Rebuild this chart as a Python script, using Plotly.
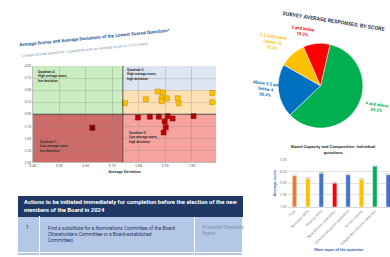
import plotly.graph_objects as go

# ---------------- data ----------------
# Scatter: lowest scored questions (average deviation vs average score)
yellow_dev = [0.748, 0.827, 0.872, 0.891, 0.887, 0.906, 0.887, 0.947, 0.951, 1.078, 1.078]
yellow_score = [3.23, 3.31, 3.47, 3.45, 3.33, 3.33, 3.27, 3.33, 3.23, 3.44, 3.25]
red_dev = [0.797, 0.842, 0.876, 0.909, 0.928, 1.007, 0.898, 0.902, 0.894]
red_score = [2.93, 2.95, 2.95, 2.96, 2.91, 2.96, 2.85, 2.73, 2.62]
q1_dev = [0.625]
q1_score = [2.72]
score_threshold = 3.0
band_top = 3.5
dev_threshold = 0.74
x_tick_vals = [0.40, 0.50, 0.60, 0.70, 0.80, 0.90, 1.00]
y_tick_vals = [2.00, 2.25, 2.50, 2.75, 3.00, 3.25, 3.50, 3.75, 4.00]

# Pie: survey average responses by score
pie_labels = ["4 and above", "Above 3.5 and below 4", "3.5 and below (above 3)", "3 and below"]
pie_label_lines = ["4 and above", "Above 3.5 and<br>below 4", "3.5 and below<br>(above 3)", "3 and below"]
pie_values = [59.2, 20.4, 10.2, 10.2]
pie_colors = ["#00b050", "#0070c0", "#ffc000", "#ff0000"]

# Bars: board capacity and composition
bar_categories = ["Total", "Business skills", "Finance skills", "New director orientation",
                  "Director education guidelines", "Annual training",
                  "Independent director selection", "Current board composition"]
bar_values = [3.63, 3.40, 3.83, 3.00, 3.71, 3.33, 4.43, 3.71]
bar_colors = ["#ed7d31", "#ffc000", "#4472c4", "#ff0000", "#4472c4", "#ffc000", "#00b050", "#4472c4"]
bar_label_colors = ["#ed7d31"] + ["#7f7f7f"] * 7

# Table
table_header = ("<b>Actions to be initiated immediately for completion before the election of the new<br>"
                "members of the Board in 2024</b>")
row_numbers = ["1", "2"]
row_actions = ["Find a substitute for a Nominations Committee of the Board<br>"
               "(Shareholders Committee or a Board-established<br>Committee)",
               "Develop a Comprehensive Director Orientation Program."]
row_owners = ["Promoter Shareholders;<br>Board", "Corporate Secretary"]

W, H = 390, 257
def px(x):
    return x / W
def py(y):
    return 1 - y / H

FONT = "Roboto, Liberation Sans, sans-serif"
NAVY = "#1f3864"

fig = go.Figure()

# ---------------- scatter quadrant chart ----------------
fig.add_trace(go.Scatter(x=yellow_dev, y=yellow_score, mode="markers",
                         marker=dict(symbol="square", size=5, color="#ffc000",
                                     line=dict(color="#b58900", width=0.5)),
                         xaxis="x", yaxis="y", showlegend=False))
fig.add_trace(go.Scatter(x=red_dev, y=red_score, mode="markers",
                         marker=dict(symbol="square", size=5, color="#c00000",
                                     line=dict(color="#800000", width=0.5)),
                         xaxis="x", yaxis="y", showlegend=False))
fig.add_trace(go.Scatter(x=q1_dev, y=q1_score, mode="markers",
                         marker=dict(symbol="square", size=5, color="#8b0000",
                                     line=dict(color="#500000", width=0.5)),
                         xaxis="x", yaxis="y", showlegend=False))

x_lo, x_hi = 0.40, 1.093
y_lo, y_hi = 2.0, 4.0
shapes = [
    dict(type="rect", xref="x", yref="y", x0=x_lo, x1=dev_threshold, y0=score_threshold, y1=y_hi,
         fillcolor="#c9ecc1", line=dict(width=0), layer="below"),
    dict(type="rect", xref="x", yref="y", x0=dev_threshold, x1=x_hi, y0=band_top, y1=y_hi,
         fillcolor="#dde5f2", line=dict(width=0), layer="below"),
    dict(type="rect", xref="x", yref="y", x0=dev_threshold, x1=x_hi, y0=score_threshold, y1=band_top,
         fillcolor="#fde0b4", line=dict(width=0), layer="below"),
    dict(type="rect", xref="x", yref="y", x0=x_lo, x1=dev_threshold, y0=y_lo, y1=score_threshold,
         fillcolor="#cd6b68", line=dict(width=0), layer="below"),
    dict(type="rect", xref="x", yref="y", x0=dev_threshold, x1=x_hi, y0=y_lo, y1=score_threshold,
         fillcolor="#f6a3a0", line=dict(width=0), layer="below"),
    dict(type="line", xref="x", yref="y", x0=dev_threshold, x1=dev_threshold, y0=y_lo, y1=y_hi,
         line=dict(color="#333333", width=0.8)),
    dict(type="line", xref="x", yref="y", x0=x_lo, x1=x_hi, y0=score_threshold, y1=score_threshold,
         line=dict(color="#333333", width=0.8)),
]

# ---------------- pie ----------------
fig.add_trace(go.Pie(labels=pie_labels, values=pie_values,
                     marker=dict(colors=pie_colors, line=dict(color="white", width=0.5)),
                     sort=False, direction="clockwise", rotation=13,
                     textposition="none",
                     domain=dict(x=[px(277), px(363)], y=[py(128), py(42)]),
                     showlegend=False, hoverinfo="label+percent"))

# ---------------- bar chart ----------------
fig.add_trace(go.Bar(x=list(range(len(bar_categories))), y=bar_values,
                     marker=dict(color=bar_colors), width=0.33,
                     text=bar_values, texttemplate="%{y:.2f}", textposition="outside",
                     textfont=dict(size=4, color=bar_label_colors, family=FONT),
                     cliponaxis=False, xaxis="x2", yaxis="y2", showlegend=False))

# ---------------- table (dark merged header row + action rows) ----------------
fig.add_trace(go.Table(
    domain=dict(x=[px(15), px(242)], y=[0, py(197)]),
    columnwidth=[22, 156, 49],
    header=dict(values=["", "", ""], fill_color=NAVY, height=21,
                line=dict(color=NAVY, width=0), font=dict(size=1, color=NAVY)),
    cells=dict(values=[row_numbers, row_actions, row_owners],
               fill_color="#b4c7e7", align="left", height=9,
               line=dict(color="white", width=1),
               font=dict(color=[NAVY, NAVY, "#8090a8"], size=4.8, family=FONT))))

# pie labels (text built from the pie data)
pie_label_pos = [(377, 107), (265, 88), (272, 41), (302, 30)]
pie_annotations = []
for lab, val, col, (lx, ly) in zip(pie_label_lines, pie_values, pie_colors, pie_label_pos):
    pie_annotations.append(dict(
        text=f"<b>{lab}<br>{val:.1f}%</b>", x=px(lx), y=py(ly), xref="paper", yref="paper",
        xanchor="center", yanchor="middle", showarrow=False, textangle=8, align="center",
        font=dict(size=4.3, color=col, family=FONT)))

annotations = [
    dict(text="<b>Average Scores and Average Deviations of the Lowest Scored Questions*</b>",
         x=px(93), y=py(36), xref="paper", yref="paper", xanchor="center", yanchor="middle",
         showarrow=False, textangle=-5.5,
         font=dict(size=4.6, color="#2f5597", family=FONT)),
    dict(text="Lowest scored questions = questions with an average score of 3.5 or lower",
         x=px(83), y=py(48), xref="paper", yref="paper", xanchor="center", yanchor="middle",
         showarrow=False, textangle=-5.5,
         font=dict(size=3.8, color="#8497b0", family=FONT)),
    dict(text="<b>Quadrant 4:<br>High average score,<br>low deviation</b>",
         x=0.02, y=0.98, xref="x domain", yref="y domain", xanchor="left", yanchor="top",
         showarrow=False, align="left", font=dict(size=3.3, color="#333333", family=FONT)),
    dict(text="<b>Quadrant 3:<br>High average score,<br>high deviation</b>",
         x=dev_threshold + 0.01, y=1.0, xref="x", yref="y domain", xanchor="left", yanchor="top",
         showarrow=False, align="left", font=dict(size=3.3, color="#333333", family=FONT)),
    dict(text="<b>Quadrant 1:<br>Low average score,<br>low deviation</b>",
         x=0.03, y=0.08, xref="x domain", yref="y domain", xanchor="left", yanchor="bottom",
         showarrow=False, align="left", font=dict(size=3.3, color="#333333", family=FONT)),
    dict(text="<b>Quadrant 2:<br>Low average score,<br>high deviation</b>",
         x=dev_threshold + 0.015, y=0.17, xref="x", yref="y domain", xanchor="left", yanchor="bottom",
         showarrow=False, align="left", font=dict(size=3.3, color="#333333", family=FONT)),
    dict(text="<b>SURVEY AVERAGE RESPONSES: BY SCORE</b>",
         x=px(333), y=py(19), xref="paper", yref="paper", xanchor="center", yanchor="middle",
         showarrow=False, textangle=9,
         font=dict(size=5.3, color="#333f50", family=FONT)),
    dict(text="<b>Board Capacity and Composition: Individual<br>questions</b>",
         x=px(333), y=py(150), xref="paper", yref="paper", xanchor="center", yanchor="middle",
         showarrow=False, font=dict(size=4.3, color="#404040", family=FONT)),
    dict(text=table_header, x=px(19), y=py(207.5), xref="paper", yref="paper",
         xanchor="left", yanchor="middle", showarrow=False, align="left",
         font=dict(size=5.9, color="white", family=FONT)),
] + pie_annotations

fig.update_layout(
    width=W, height=H, margin=dict(l=0, r=0, t=0, b=0),
    paper_bgcolor="white", plot_bgcolor="rgba(0,0,0,0)",
    font=dict(family=FONT),
    shapes=shapes, annotations=annotations,
    xaxis=dict(domain=[px(30), px(215)], range=[x_lo, x_hi], tickvals=x_tick_vals,
               tickformat=".2f", tickfont=dict(size=3.5, color="#595959"),
               showgrid=True, gridcolor="rgba(120,120,120,0.25)", gridwidth=0.5,
               zeroline=False, showline=True, linecolor="#bfbfbf", linewidth=0.5,
               ticks="", title=dict(text="<b>Average Deviation</b>", standoff=2,
                                    font=dict(size=4, color="#404040")),
               fixedrange=True),
    yaxis=dict(domain=[py(163), py(65)], range=[y_lo, y_hi], tickvals=y_tick_vals,
               tickformat=".2f", tickfont=dict(size=3.5, color="#595959"),
               showgrid=True, gridcolor="rgba(120,120,120,0.25)", gridwidth=0.5,
               zeroline=False, showline=True, linecolor="#bfbfbf", linewidth=0.5,
               ticks="", fixedrange=True),
    xaxis2=dict(domain=[px(287), 1.0], range=[-0.5, 7.13], anchor="y2",
                tickvals=list(range(len(bar_categories))), ticktext=bar_categories,
                tickangle=-45, tickfont=dict(size=3.6, color="#7f7f7f"),
                showgrid=False, zeroline=False, showline=True, linecolor="#d9d9d9",
                linewidth=0.5, ticks="",
                title=dict(text="<b>Main topic of the question</b>", standoff=2,
                           font=dict(size=4.2, color="#4472c4")),
                fixedrange=True),
    yaxis2=dict(domain=[py(208), py(160)], range=[1, 5], dtick=1, anchor="x2",
                tickformat=".2f", tickfont=dict(size=3.6, color="#7f7f7f"),
                showgrid=True, gridcolor="#e3e3e3", gridwidth=0.5, zeroline=False,
                ticks="", title=dict(text="<b>Average score</b>", standoff=3,
                                     font=dict(size=4.2, color="#4472c4")),
                fixedrange=True),
)

fig.write_html("out.html", config={"displayModeBar": False},
               post_script="document.body.style.margin='0px';document.body.style.overflow='hidden';")
